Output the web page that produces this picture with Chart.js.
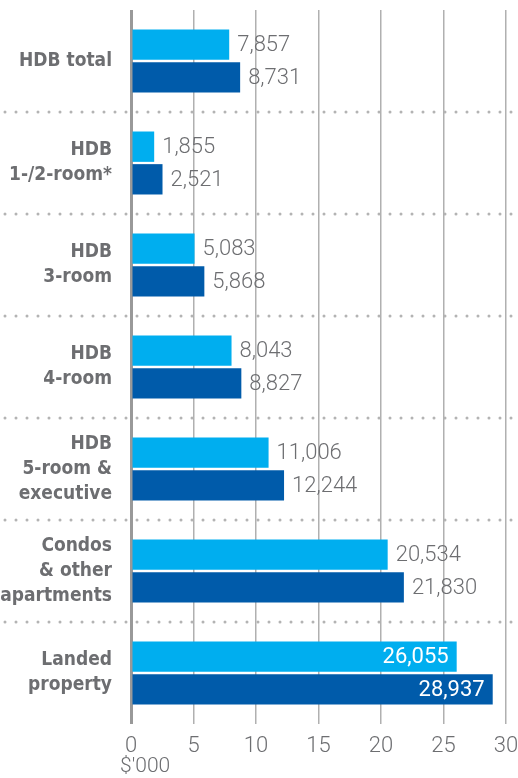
<!DOCTYPE html>
<html>
<head>
<meta charset="utf-8">
<script src="https://cdn.jsdelivr.net/npm/chart.js@4.4.1/dist/chart.umd.min.js"></script>
<style>
html,body{margin:0;padding:0;background:#fff;}
#wrap{width:518px;height:778px;position:relative;}
</style>
</head>
<body>
<div id="wrap"><canvas id="c" width="518" height="778"></canvas></div>
<script>
const categories = [
  ["HDB total"],
  ["HDB", "1-/2-room*"],
  ["HDB", "3-room"],
  ["HDB", "4-room"],
  ["HDB", "5-room &", "executive"],
  ["Condos", "& other", "apartments"],
  ["Landed", "property"]
];
const lightValues = [7.857, 1.855, 5.083, 8.043, 11.006, 20.534, 26.055];
const darkValues  = [8.731, 2.521, 5.868, 8.827, 12.244, 21.830, 28.937];
const xTicks = [0, 5, 10, 15, 20, 25, 30];
const unitLabel = "$'000";

const GRAY = '#6d6e71';
const LIGHT = '#00aeef';
const DARK = '#005baa';
const LABEL_FONT = "'DejaVu Sans Condensed', 'Liberation Sans Narrow', 'Arial Narrow', sans-serif";

const separatorPlugin = {
  id: 'separators',
  beforeDatasetsDraw(chart) {
    const {ctx} = chart;
    const y = chart.scales.y;
    ctx.save();
    ctx.strokeStyle = '#b3b3b3';
    ctx.lineWidth = 3;
    ctx.lineCap = 'round';
    ctx.setLineDash([0, 11]);
    for (let i = 0; i < categories.length - 1; i++) {
      const yy = (y.getPixelForValue(i) + y.getPixelForValue(i + 1)) / 2;
      ctx.beginPath();
      ctx.moveTo(5, yy);
      ctx.lineTo(chart.width, yy);
      ctx.stroke();
    }
    ctx.restore();
  }
};

const valueLabelPlugin = {
  id: 'valueLabels',
  afterDatasetsDraw(chart) {
    const {ctx} = chart;
    ctx.save();
    ctx.textBaseline = 'middle';
    chart.data.datasets.forEach((ds, di) => {
      const meta = chart.getDatasetMeta(di);
      meta.data.forEach((bar, i) => {
        const v = ds.data[i];
        const txt = Math.round(v * 1000).toLocaleString('en-US');
        if (v > 25) {
          ctx.font = '400 22px Roboto';
          ctx.fillStyle = '#ffffff';
          ctx.textAlign = 'right';
          ctx.fillText(txt, bar.x - 8, bar.y + 1);
        } else {
          ctx.font = '300 22px Roboto';
          ctx.fillStyle = GRAY;
          ctx.textAlign = 'left';
          ctx.fillText(txt, bar.x + 8, bar.y + 1);
        }
      });
    });
    ctx.font = '300 21px Roboto';
    ctx.fillStyle = GRAY;
    ctx.textAlign = 'left';
    ctx.fillText(unitLabel, 120, 767);
    ctx.restore();
  }
};

new Chart(document.getElementById('c'), {
  type: 'bar',
  data: {
    labels: categories,
    datasets: [
      { label: 'A', data: lightValues, backgroundColor: LIGHT, categoryPercentage: 0.64, barPercentage: 0.93 },
      { label: 'B', data: darkValues, backgroundColor: DARK, categoryPercentage: 0.64, barPercentage: 0.93 }
    ]
  },
  options: {
    indexAxis: 'y',
    responsive: false,
    animation: false,
    devicePixelRatio: 1,
    layout: { padding: { top: 10, right: 12, left: 0, bottom: 0 } },
    plugins: { legend: { display: false }, tooltip: { enabled: false } },
    scales: {
      x: {
        min: 0, max: 30,
        afterBuildTicks(scale) { scale.ticks = xTicks.map(v => ({value: v})); },
        afterFit(scale) { scale.height = 54; scale.paddingLeft = 0; scale.paddingRight = 0; },
        grid: {
          color: (c) => c.tick && c.tick.value === 0 ? '#999999' : '#b0b0b0',
          lineWidth: (c) => c.tick && c.tick.value === 0 ? 3 : 1.5,
          drawTicks: false
        },
        border: { display: false },
        ticks: {
          padding: 9,
          color: GRAY,
          font: { family: 'Roboto', weight: '300', size: 22 },
          callback: (v) => String(v)
        }
      },
      y: {
        afterFit(scale) { scale.width = 131; scale.paddingTop = 0; scale.paddingBottom = 0; },
        grid: { display: false, drawTicks: false },
        border: { display: false },
        ticks: {
          padding: 19,
          color: GRAY,
          font: { family: LABEL_FONT, weight: 'bold', size: 19, lineHeight: 1.32 }
        }
      }
    }
  },
  plugins: [separatorPlugin, valueLabelPlugin]
});
</script>
</body>
</html>
